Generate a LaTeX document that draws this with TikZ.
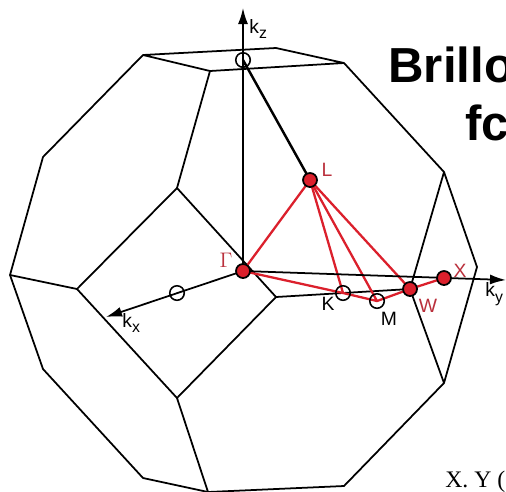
\documentclass[tikz,border=0pt]{standalone}
\usepackage{fontspec}
\setmainfont{Liberation Sans}
\newfontfamily\timesfont{Liberation Serif}
\usetikzlibrary{arrows.meta,backgrounds}
\newcommand{\ksub}[1]{k\raisebox{-3pt}{\fontsize{9}{10}\selectfont #1}}
\definecolor{bzred}{RGB}{219,32,44}
\definecolor{lblred}{RGB}{186,48,60}

\begin{document}
\begin{tikzpicture}[
  x=0.02cm,y=-0.02cm,
  zoneline/.style={draw=black,line width=1pt,line join=round},
  axisline/.style={zoneline,-{Latex[length=3.2mm,width=2mm]}},
  heavyline/.style={draw=black,line width=1.4pt},
  redline/.style={draw=bzred,line width=1.3pt},
  dot/.style={circle,draw=black,line width=1pt,fill=bzred,inner sep=0pt,minimum size=0.28cm},
  ring/.style={circle,draw=black,line width=0.9pt,inner sep=0pt,minimum size=0.29cm},
  lbl/.style={inner sep=0pt,font=\fontsize{11}{13}\selectfont},
  redlbl/.style={lbl,text=lblred},
  bigtext/.style={inner sep=0pt,font=\fontsize{28}{32}\selectfont\bfseries}
]
\useasboundingbox (0,0) rectangle (506,491);
\clip (0,0) rectangle (506,491);
% corners of the zone
\coordinate (a1) at (143,55);
\coordinate (a2) at (276,48);
\coordinate (a3) at (344,63);
\coordinate (a4) at (210,71);
\coordinate (b1) at (43,157);
\coordinate (b2) at (10,275);
\coordinate (b3) at (43,369);
\coordinate (b4) at (143,478);
\coordinate (b5) at (208,492);
\coordinate (b6) at (344,486);
\coordinate (b7) at (444,383);
\coordinate (b8) at (477,267);
\coordinate (b9) at (444,172);
\coordinate (c1) at (177,188);
\coordinate (c2) at (77,289);
\coordinate (c3) at (177,398);
\coordinate (c4) at (276,297);
% axis ends
\coordinate (kzend) at (243,8);
\coordinate (kyend) at (506,280);
\coordinate (kxend) at (106,317);
% points
\node[dot] (gam) at (243,271) {};
\node[dot] (lpt) at (310,180) {};
\node[dot] (wpt) at (410,289) {};
\node[dot] (xpt) at (444,278) {};
\node[ring] (kpt) at (343,293) {};
\node[ring] (mpt) at (377,301) {};
\node[ring] (top) at (243,60) {};
\node[ring] (side) at (177,293) {};
% labels
\node[redlbl,font=\fontsize{12}{14}\selectfont] (lgam) at (226,260) {$\Gamma$};
\node[redlbl] (ll) at (327,170) {L};
\node[redlbl] (lw) at (428,306) {W};
\node[redlbl] (lx) at (460,271) {X};
\node[lbl] (lk) at (328,304) {K};
\node[lbl] (lm) at (389,319) {M};
\node[lbl,anchor=west] (lkz) at (249,29) {\ksub{z}};
\node[lbl,anchor=west] (lkx) at (122,323) {\ksub{x}};
\node[lbl,anchor=west] (lky) at (485,294) {\ksub{y}};
\node[bigtext,anchor=base west] (t1) at (388,82) {Brillo};
\node[bigtext,anchor=base west] (t2) at (465,140) {fc};
\node[inner sep=0pt,anchor=base west,font=\timesfont\fontsize{13.5}{16}\selectfont] (cite) at (445,487) {X. Y (};
\begin{scope}[on background layer]
\draw[zoneline] (a1)--(a2)--(a3)--(a4)--cycle;
\draw[zoneline] (a1)--(b1)--(b2)--(b3)--(b4)--(b5)--(b6)--(b7)--(b8)--(b9)--(a3);
\draw[zoneline] (c1)--(c2)--(c3)--(c4)--cycle;
\draw[zoneline] (a4)--(c1);
\draw[zoneline] (c2)--(b2);
\draw[zoneline] (c3)--(b5);
\draw[zoneline] (c4)--(wpt.center);
\draw[zoneline] (b9)--(wpt.center)--(b7);
\draw[redline] (gam.center)--(lpt.center);
\draw[redline] (gam.center)--(kpt.center)--(mpt.center)--(wpt.center)--(xpt.center);
\draw[redline] (lpt.center)--(kpt.center);
\draw[redline] (lpt.center)--(mpt.center);
\draw[redline] (lpt.center)--(wpt.center);
\draw[heavyline] (top.center)--(lpt.center);
\draw[axisline] (gam.center)--(kzend);
\draw[axisline] (gam.center)--(kyend);
\draw[axisline] (gam.center)--(kxend);
\end{scope}
\end{tikzpicture}
\end{document}
